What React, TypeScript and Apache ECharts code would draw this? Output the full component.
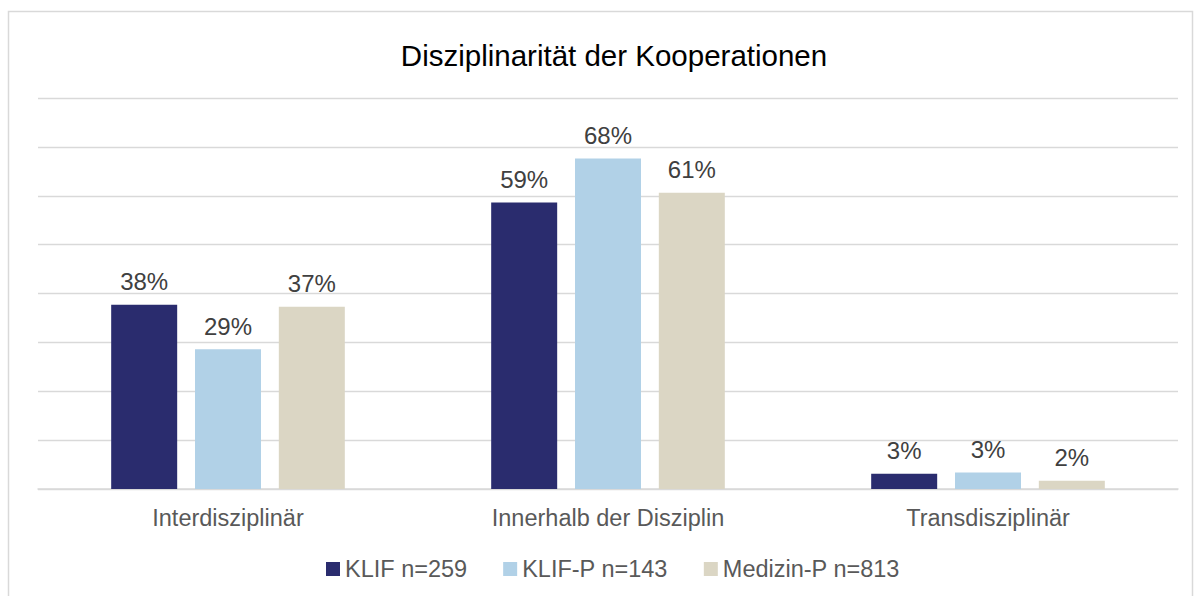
import React, { useEffect, useRef } from "react";
import * as echarts from "echarts";

const categories = ["Interdisziplinär", "Innerhalb der Disziplin", "Transdisziplinär"];
const seriesNames = ["KLIF n=259", "KLIF-P n=143", "Medizin-P n=813"];
const klif = [37.7, 58.6, 3.1];
const klifP = [28.6, 67.6, 3.4];
const medizinP = [37.3, 60.6, 1.7];
const colors = ["#2a2c6e", "#b1d1e7", "#dbd6c4"];

export default function App() {
  const ref = useRef<HTMLDivElement>(null);
  useEffect(() => {
    const chart = echarts.init(ref.current!, null, { renderer: "svg" });
    const dataSets = [klif, klifP, medizinP];
    chart.setOption({
      animation: false,
      backgroundColor: "#ffffff",
      textStyle: { fontFamily: "Liberation Sans, Arial, sans-serif" },
      title: {
        text: "Disziplinarität der Kooperationen",
        left: 609,
        textAlign: "center",
        top: 35,
        textStyle: { fontSize: 29.5, fontWeight: "normal", color: "#000000", fontFamily: "Liberation Sans, Arial, sans-serif" },
      },
      graphic: [
        {
          type: "rect",
          shape: { x: 8.5, y: 11.5, width: 1184, height: 600 },
          style: { fill: "none", stroke: "#d9d9d9", lineWidth: 1.5 },
          silent: true,
          z: -10,
        },
      ],
      legend: {
        top: 552,
        left: 321,
        itemWidth: 14,
        itemHeight: 14,
        itemGap: 36,
        icon: "rect",
        textStyle: { fontSize: 23.5, color: "#595959" },
        data: seriesNames,
      },
      grid: { left: 38, right: 16, top: 98, bottom: 107, containLabel: false },
      xAxis: {
        type: "category",
        data: categories,
        axisLine: { lineStyle: { color: "#d9d9d9", width: 1.5 } },
        axisTick: { show: false },
        axisLabel: { fontSize: 23.5, color: "#595959", margin: 17 },
      },
      yAxis: {
        type: "value",
        min: 0,
        max: 80,
        interval: 10,
        axisLabel: { show: false },
        axisLine: { show: false },
        axisTick: { show: false },
        splitLine: { lineStyle: { color: "#d9d9d9", width: 1.3 } },
      },
      series: seriesNames.map((name, i) => ({
        name,
        type: "bar",
        data: dataSets[i],
        barWidth: 66,
        barGap: "27%",
        itemStyle: { color: colors[i] },
        label: {
          show: true,
          position: "top",
          distance: 11,
          fontSize: 24,
          color: "#404040",
          formatter: (p: any) => Math.round(p.value) + "%",
        },
      })),
    });
    return () => chart.dispose();
  }, []);
  return <div ref={ref} style={{ position: "fixed", left: 0, top: 0, width: 1194, height: 596 }} />;
}
